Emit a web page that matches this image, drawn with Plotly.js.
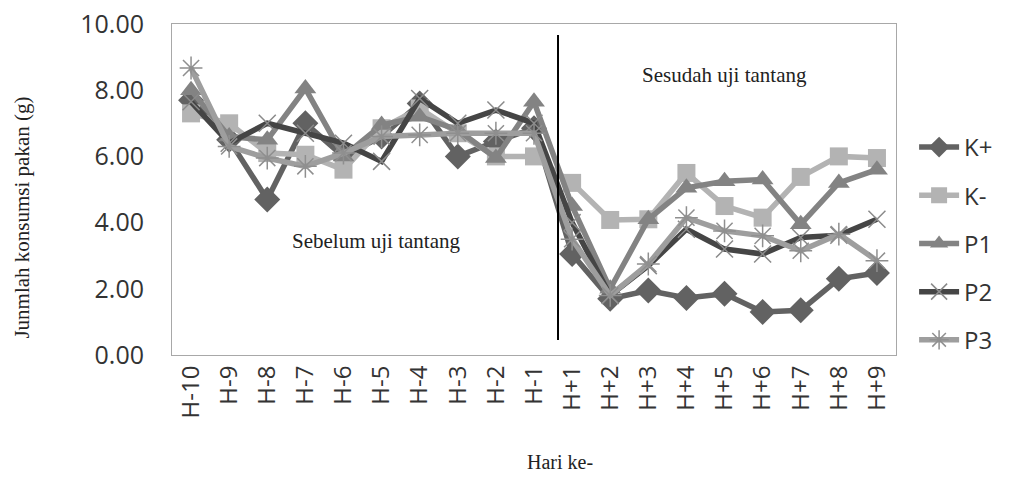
<!DOCTYPE html>
<html>
<head>
<meta charset="utf-8">
<script src="https://cdn.plot.ly/plotly-3.0.1.min.js"></script>
<style>html,body{margin:0;padding:0;background:#fff;}#chart{width:1010px;height:477px;}</style>
</head>
<body>
<div id="chart"></div>
<script>
const days = ["H-10","H-9","H-8","H-7","H-6","H-5","H-4","H-3","H-2","H-1","H+1","H+2","H+3","H+4","H+5","H+6","H+7","H+8","H+9"];
const kPlus  = [7.70,6.50,4.70,7.00,6.00,6.60,7.60,6.00,6.45,6.85,3.05,1.70,1.95,1.72,1.85,1.30,1.35,2.30,2.48];
const kMinus = [7.30,7.00,6.10,6.05,5.60,6.85,7.45,6.70,6.00,6.00,5.20,4.08,4.10,5.50,4.50,4.15,5.38,6.00,5.95];
const p1     = [8.00,6.60,6.50,8.05,6.00,6.95,7.20,6.80,5.95,7.65,4.50,2.00,4.10,5.05,5.25,5.30,3.95,5.20,5.60];
const p2     = [7.65,6.40,7.00,6.70,6.40,5.85,7.75,7.00,7.40,7.00,4.00,1.80,2.70,3.80,3.20,3.05,3.55,3.62,4.10];
const p3     = [8.67,6.30,5.95,5.70,6.10,6.60,6.65,6.70,6.70,6.70,3.50,1.80,2.75,4.15,3.75,3.60,3.15,3.65,2.85];
const yTicks = [0,2,4,6,8,10];

function tr(name, y, color, symbol, size, mcolor, lw) {
  return {
    x: days, y: y, name: name, type: 'scatter', mode: 'lines+markers',
    legendgroup: name,
    line: {color: color, width: 5.5},
    marker: {symbol: symbol, size: size, color: mcolor || color, line: {width: lw || 0, color: mcolor || color}}
  };
}
const data = [
  tr('K+', kPlus, '#626262', 'diamond', 20),
  tr('K-', kMinus, '#b3b3b3', 'square', 18),
  tr('P1', p1, '#838383', 'triangle-up', 19),
  tr('P2', p2, '#454545', 'x-thin', 17, '#8a8a8a', 1.5),
  tr('P3', p3, '#9e9e9e', 'asterisk', 19, '#8f8f8f', 1.5)
];

const serif = 'Liberation Serif, Times New Roman, serif';
const layout = {
  width: 1010, height: 477,
  margin: {l: 172, r: 114, t: 24, b: 122},
  paper_bgcolor: '#fff', plot_bgcolor: '#fff',
  showlegend: true,
  legend: {x: 1.025, xanchor: 'left', y: 0.695, yanchor: 'top', tracegroupgap: 14,
           font: {family: 'Open Sans, sans-serif', size: 24, color: '#333'}, itemwidth: 40},
  xaxis: {
    type: 'category', categoryarray: days, range: [-0.5, 18.5],
    showline: true, linecolor: '#a8a8a8', linewidth: 1, mirror: true,
    showgrid: false, zeroline: false, ticks: '',
    tickangle: -90, tickfont: {family: 'Open Sans, sans-serif', size: 24, color: '#333'}
  },
  yaxis: {
    range: [0, 10], tickvals: yTicks, tickformat: '.2f',
    showline: true, linecolor: '#a8a8a8', linewidth: 1, mirror: true,
    showgrid: false, zeroline: false, ticks: '', ticklabelstandoff: 22,
    tickfont: {family: 'Open Sans, sans-serif', size: 25, color: '#333'}
  },
  shapes: [{type: 'line', xref: 'x', yref: 'y', x0: 9.63, x1: 9.63, y0: 0.45, y1: 9.67,
            line: {color: '#000', width: 2}}],
  annotations: [
    {xref: 'x', yref: 'y', x: 4.85, y: 3.44, text: 'Sebelum uji tantang', showarrow: false,
     font: {family: serif, size: 21, color: '#222'}},
    {xref: 'x', yref: 'y', x: 14.0, y: 8.46, text: 'Sesudah uji tantang', showarrow: false,
     font: {family: serif, size: 21, color: '#222'}},
    {xref: 'paper', yref: 'paper', x: -0.227, y: 0.414, text: 'Junmlah konsumsi pakan (g)', showarrow: false,
     textangle: -90, font: {family: serif, size: 21, color: '#222'}},
    {xref: 'paper', yref: 'paper', x: 0.536, y: -0.362, text: 'Hari ke-', showarrow: false,
     font: {family: serif, size: 20, color: '#222'}}
  ]
};
Plotly.newPlot('chart', data, layout, {displayModeBar: false, staticPlot: true});
</script>
</body>
</html>
